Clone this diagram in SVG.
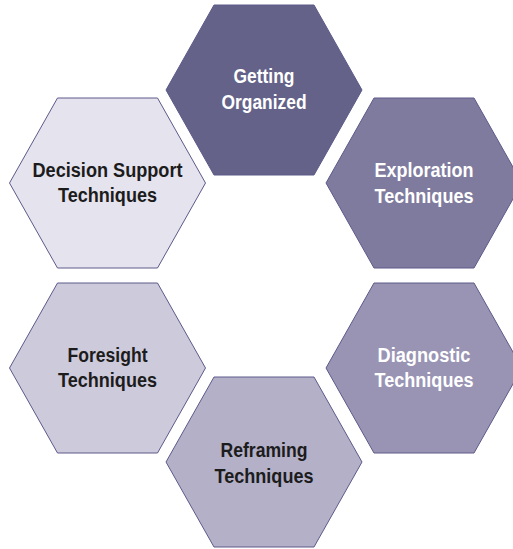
<svg xmlns="http://www.w3.org/2000/svg" xmlns:xlink="http://www.w3.org/1999/xlink" width="513" height="549" viewBox="0 0 513 549">
<style>
.hex{stroke:#5c5a8a;stroke-width:1}
.t{font-family:"Liberation Sans",Arial,sans-serif;font-weight:bold;font-size:20px;text-anchor:middle}
.w{fill:#ffffff}
.d{fill:#1c1c1c}
</style>
<defs>
<polygon id="hex" points="-98,0 -50,-85 50,-85 98,0 50,85 -50,85"/>
</defs>
<rect width="513" height="549" fill="#ffffff"/>
<g id="connectors"/>
<g id="getting-organized" transform="translate(264,90)">
<use xlink:href="#hex" class="hex" fill="#646288" stroke="#646288"/>
<text class="t w" y="-7" textLength="61" lengthAdjust="spacingAndGlyphs">Getting</text>
<text class="t w" y="19" textLength="85" lengthAdjust="spacingAndGlyphs">Organized</text>
</g>
<g id="decision-support" transform="translate(107.5,183)">
<use xlink:href="#hex" class="hex" fill="#e5e3ed"/>
<text class="t d" y="-6" textLength="150" lengthAdjust="spacingAndGlyphs">Decision Support</text>
<text class="t d" y="19" textLength="99" lengthAdjust="spacingAndGlyphs">Techniques</text>
</g>
<g id="exploration" transform="translate(424,183)">
<use xlink:href="#hex" class="hex" fill="#7f7b9e"/>
<text class="t w" y="-6" textLength="99" lengthAdjust="spacingAndGlyphs">Exploration</text>
<text class="t w" y="20" textLength="99" lengthAdjust="spacingAndGlyphs">Techniques</text>
</g>
<g id="foresight" transform="translate(107.5,368)">
<use xlink:href="#hex" class="hex" fill="#cdcadb"/>
<text class="t d" y="-6" textLength="80" lengthAdjust="spacingAndGlyphs">Foresight</text>
<text class="t d" y="19" textLength="99" lengthAdjust="spacingAndGlyphs">Techniques</text>
</g>
<g id="diagnostic" transform="translate(424,368)">
<use xlink:href="#hex" class="hex" fill="#9994b4"/>
<text class="t w" y="-6" textLength="93" lengthAdjust="spacingAndGlyphs">Diagnostic</text>
<text class="t w" y="19" textLength="99" lengthAdjust="spacingAndGlyphs">Techniques</text>
</g>
<g id="reframing" transform="translate(264,462)">
<use xlink:href="#hex" class="hex" fill="#b3b0c8"/>
<text class="t d" y="-5" textLength="87" lengthAdjust="spacingAndGlyphs">Reframing</text>
<text class="t d" y="21" textLength="99" lengthAdjust="spacingAndGlyphs">Techniques</text>
</g>
</svg>
